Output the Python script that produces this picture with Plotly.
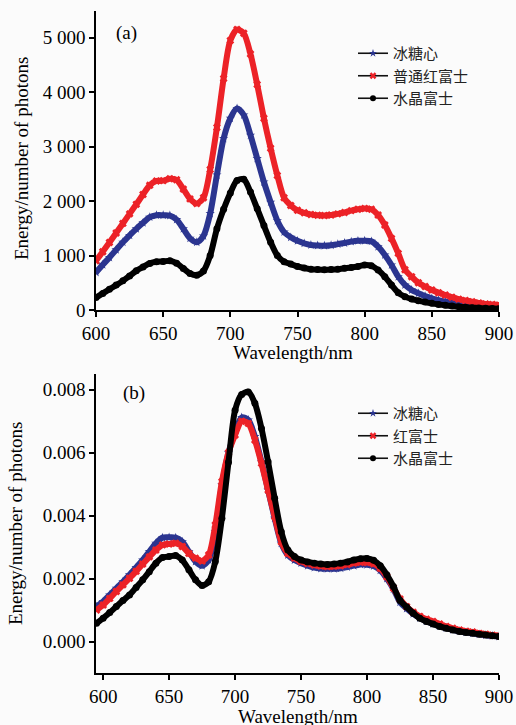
import plotly.graph_objects as go
from plotly.subplots import make_subplots

# ---------------- data ----------------
wl_a = list(range(600, 901, 5))
a_bingtangxin = [690, 830, 965, 1105, 1245, 1370, 1490, 1600, 1705, 1740,
                 1740, 1735, 1660, 1490, 1315, 1245, 1360, 1770, 2480, 3150,
                 3520, 3700, 3580, 3210, 2780, 2350, 1980, 1640, 1430, 1335,
                 1270, 1225, 1195, 1185, 1180, 1190, 1210, 1230, 1255, 1270,
                 1272, 1260, 1162, 1010, 826, 612, 460, 367, 306, 255,
                 214, 180, 153, 130, 110, 93, 80, 70, 61, 55, 50]
a_hongfushi = [905, 1070, 1240, 1415, 1590, 1765, 1940, 2120, 2290, 2370,
               2375, 2410, 2390, 2220, 2040, 1955, 2060, 2580, 3350, 4250,
               4950, 5150, 5080, 4700, 4140, 3520, 2970, 2470, 2060, 1920,
               1830, 1785, 1755, 1740, 1735, 1745, 1765, 1790, 1825, 1850,
               1865, 1850, 1745, 1560, 1315, 1040, 740, 610, 500, 430,
               367, 318, 275, 235, 200, 175, 153, 130, 112, 100, 90]
a_shuijing = [228, 305, 380, 457, 535, 625, 720, 790, 855, 885,
              890, 905, 860, 763, 670, 640, 715, 1000, 1490, 1850,
              2150, 2380, 2400, 2165, 1860, 1550, 1245, 1000, 885, 843,
              800, 770, 750, 742, 738, 742, 750, 765, 780, 800,
              826, 813, 734, 612, 460, 318, 245, 200, 171, 145,
              122, 103, 86, 72, 61, 51, 43, 36, 31, 27, 25]

wl_b = list(range(595, 901, 5))
b_bingtangxin = [0.00111, 0.00127, 0.00148, 0.00169, 0.00190, 0.00212, 0.00235, 0.00259,
                 0.00286, 0.00312, 0.00330, 0.00331, 0.00330, 0.00317, 0.00286, 0.00254,
                 0.00241, 0.00259, 0.00349, 0.00497, 0.00600, 0.00667, 0.00712, 0.00704,
                 0.00651, 0.00571, 0.00481, 0.00392, 0.00312, 0.00275, 0.00259, 0.00249,
                 0.00241, 0.00235, 0.00232, 0.00231, 0.00231, 0.00233, 0.00237, 0.00241,
                 0.00245, 0.00244, 0.00240, 0.00226, 0.00200, 0.00167, 0.00125, 0.00105,
                 0.00088, 0.00075, 0.00064, 0.00056, 0.00049, 0.00043, 0.00037, 0.00033,
                 0.00029, 0.00026, 0.00023, 0.00020, 0.00018, 0.00016]
b_hongfushi = [0.00100, 0.00116, 0.00137, 0.00159, 0.00180, 0.00201, 0.00223, 0.00246,
               0.00269, 0.00291, 0.00307, 0.00310, 0.00312, 0.00302, 0.00280, 0.00265,
               0.00256, 0.00275, 0.00370, 0.00508, 0.00600, 0.00656, 0.00700, 0.00693,
               0.00640, 0.00566, 0.00481, 0.00397, 0.00317, 0.00280, 0.00265, 0.00254,
               0.00248, 0.00243, 0.00240, 0.00238, 0.00239, 0.00241, 0.00245, 0.00249,
               0.00252, 0.00251, 0.00247, 0.00233, 0.00206, 0.00170, 0.00135, 0.00111,
               0.00093, 0.00080, 0.00071, 0.00064, 0.00056, 0.00048, 0.00042, 0.00037,
               0.00033, 0.00030, 0.00026, 0.00023, 0.00020, 0.00018]
b_shuijing = [0.00058, 0.00074, 0.00092, 0.00111, 0.00130, 0.00148, 0.00172, 0.00196,
              0.00222, 0.00249, 0.00267, 0.00270, 0.00273, 0.00259, 0.00228, 0.00196,
              0.00178, 0.00190, 0.00254, 0.00392, 0.00570, 0.00735, 0.00785, 0.00793,
              0.00757, 0.00677, 0.00571, 0.00455, 0.00349, 0.00291, 0.00270, 0.00259,
              0.00253, 0.00249, 0.00246, 0.00245, 0.00246, 0.00249, 0.00253, 0.00259,
              0.00263, 0.00264, 0.00258, 0.00241, 0.00212, 0.00175, 0.00130, 0.00110,
              0.00090, 0.00074, 0.00064, 0.00056, 0.00048, 0.00042, 0.00037, 0.00032,
              0.00029, 0.00026, 0.00023, 0.00021, 0.00018, 0.00016]

names_a = ["冰糖心", "普通红富士", "水晶富士"]
names_b = ["冰糖心", "红富士", "水晶富士"]

x_ticks = [600, 650, 700, 750, 800, 850, 900]
ya_ticks = [0, 1000, 2000, 3000, 4000, 5000]
ya_ticktext = ["0", "1 000", "2 000", "3 000", "4 000", "5 000"]
yb_ticks = [0.000, 0.002, 0.004, 0.006, 0.008]
yb_ticktext = ["0.000", "0.002", "0.004", "0.006", "0.008"]

# ---------------- style ----------------
BLUE = "#2b3590"
RED = "#ec2227"
BLACK = "#000000"
colors = [BLUE, RED, BLACK]
symbols = ["star", "x", "circle"]
SERIF = "Liberation Serif, Times New Roman, serif"
CJK = "Noto Sans CJK SC"
BG = "#fbfbfb"

W, H = 516, 725
ML, MR, MT, MB = 96, 17, 11, 52
PW, PH = W - ML - MR, H - MT - MB

def px(xp):
    return (xp - ML) / PW

def py(yp):
    return (H - MB - yp) / PH

fig = make_subplots(rows=2, cols=1, vertical_spacing=0.0966)
fig.update_layout(yaxis=dict(domain=[py(310), 1.0]),
                  yaxis2=dict(domain=[0.0, py(374)]))

series_a = [a_bingtangxin, a_hongfushi, a_shuijing]
series_b = [b_bingtangxin, b_hongfushi, b_shuijing]

for row, wl, series, names, leg in [(1, wl_a, series_a, names_a, "legend"),
                                     (2, wl_b, series_b, names_b, "legend2")]:
    for vals, c, sym, nm in zip(series, colors, symbols, names):
        fig.add_trace(go.Scatter(
            x=wl, y=vals, mode="lines+markers", showlegend=False,
            line=dict(color=c, width=6, shape="spline", smoothing=0.8),
            marker=dict(color=c, size=7, symbol=sym),
            hoverinfo="skip"), row=row, col=1)
    for c, sym, nm in zip(colors, symbols, names):
        fig.add_trace(go.Scatter(
            x=[None], y=[None], mode="lines+markers", name=nm, legend=leg,
            line=dict(color="#111111", width=1.6),
            marker=dict(color=c, size=6, symbol=sym)), row=row, col=1)

axis_common = dict(showline=True, linecolor="black", linewidth=1.5,
                   ticks="outside", ticklen=5, tickwidth=1.5, tickcolor="black",
                   showgrid=False, zeroline=False, automargin=False,
                   tickfont=dict(family=SERIF, size=19, color="black"))

fig.update_xaxes(range=[600, 900], tickvals=x_ticks, row=1, col=1, **axis_common)
fig.update_xaxes(range=[594.6, 900], tickvals=x_ticks, row=2, col=1, **axis_common)
fig.update_yaxes(range=[0, 5490], tickvals=ya_ticks, ticktext=ya_ticktext,
                 row=1, col=1, **axis_common)
fig.update_yaxes(range=[-0.001, 0.0085], tickvals=yb_ticks, ticktext=yb_ticktext,
                 row=2, col=1, **axis_common)

title_font = dict(family=SERIF, size=19, color="black")
annotations = [
    dict(text="(a)", x=px(114), y=py(33), xanchor="left", yanchor="middle",
         font=dict(family=SERIF, size=19, color="black")),
    dict(text="(b)", x=px(121), y=py(393), xanchor="left", yanchor="middle",
         font=dict(family=SERIF, size=19, color="black")),
    dict(text="Energy/number of photons", x=px(21), y=py(159), textangle=-90,
         xanchor="center", yanchor="middle", font=title_font),
    dict(text="Energy/number of photons", x=px(15), y=py(524), textangle=-90,
         xanchor="center", yanchor="middle", font=title_font),
    dict(text="Wavelength/nm", x=px(293), y=py(352), xanchor="center",
         yanchor="middle", font=title_font),
    dict(text="Wavelength/nm", x=px(298), y=py(716), xanchor="center",
         yanchor="middle", font=title_font),
]
for a in annotations:
    a.update(xref="paper", yref="paper", showarrow=False)

legend_common = dict(xanchor="left", yanchor="top", bgcolor="rgba(0,0,0,0)",
                     font=dict(family=CJK, size=15, color="#222222"),
                     itemwidth=30, tracegroupgap=0, itemclick=False)

fig.update_layout(
    width=W, height=H,
    margin=dict(l=ML, r=MR, t=MT, b=MB, autoexpand=False),
    paper_bgcolor=BG, plot_bgcolor=BG,
    annotations=annotations,
    legend=dict(x=px(353), y=py(37), **legend_common),
    legend2=dict(x=px(353), y=py(397), **legend_common),
)

fig.write_html("out.html")
